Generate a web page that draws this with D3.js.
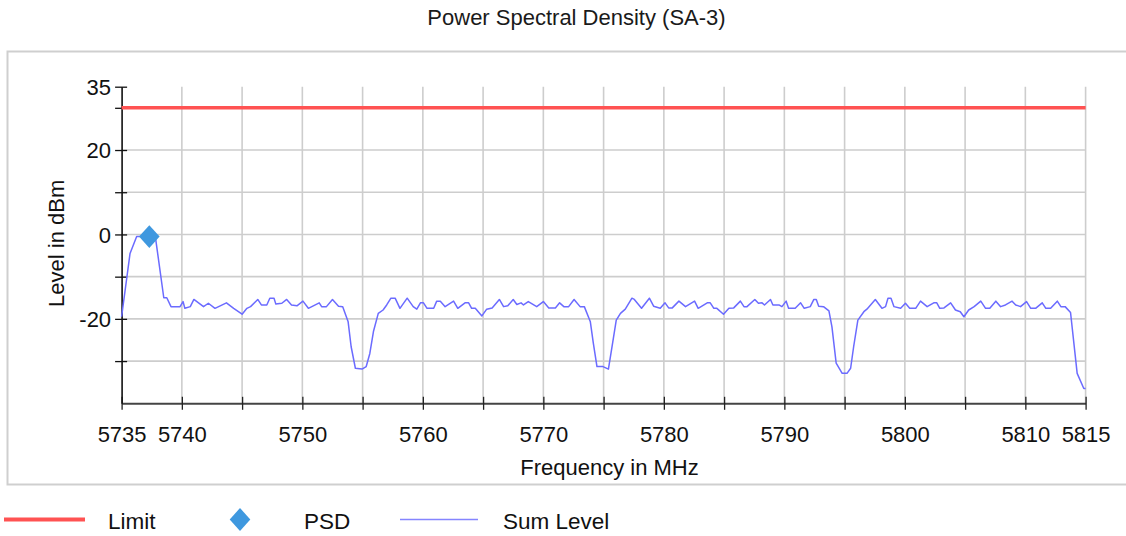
<!DOCTYPE html>
<html>
<head>
<meta charset="utf-8">
<script src="https://cdn.jsdelivr.net/npm/d3@7/dist/d3.min.js"></script>
<style>
  html, body { margin: 0; padding: 0; background: #fff; }
  svg { display: block; font-family: "Liberation Sans", Arial, sans-serif; }
</style>
</head>
<body>
<svg id="chart" width="1126" height="536"></svg>
<script>
// ---- data ----
const title = "Power Spectral Density (SA-3)";
const xTitle = "Frequency in MHz";
const yTitle = "Level in dBm";
const xTicks = [5735,5740,5745,5750,5755,5760,5765,5770,5775,5780,5785,5790,5795,5800,5805,5810,5815];
const xLabels = [5735,5740,5750,5760,5770,5780,5790,5800,5810,5815];
const yTicks = [35,30,20,10,0,-10,-20,-30];
const yLabels = [35,20,0,-20];
const yGrid = [30,20,10,0,-10,-20,-30];
const limitFreq = [5735, 5815];
const limitLevel = [30, 30];
const psdFreq = [5737.3];
const psdLevel = [-0.5];
const sumFreq = [
  5735.0,5735.7,5736.25,5737.8,5738.5,5738.75,5739.1,5739.85,5740.1,5740.25,
  5740.7,5741.0,5741.8,5742.2,5742.75,5743.7,5744.3,5745.0,5745.4,5745.7,
  5746.3,5746.6,5747.05,5747.3,5747.65,5747.8,5748.3,5748.7,5749.1,5749.55,
  5750.05,5750.5,5751.4,5751.6,5752.0,5752.5,5753.0,5753.35,5753.8,5754.05,
  5754.4,5754.95,5755.3,5755.6,5755.9,5756.3,5756.7,5757.0,5757.35,5757.7,
  5758.1,5758.7,5759.2,5759.5,5759.8,5760.05,5760.35,5760.9,5761.15,5761.45,
  5761.85,5762.55,5762.9,5763.5,5763.8,5764.05,5764.35,5764.9,5765.3,5765.75,
  5766.35,5766.7,5767.05,5767.5,5767.8,5768.15,5768.35,5768.75,5769.45,5770.0,
  5770.45,5771.0,5771.35,5771.7,5772.1,5772.55,5773.05,5773.4,5773.9,5774.15,
  5774.45,5774.95,5775.4,5775.7,5776.05,5776.4,5776.8,5777.35,5777.55,5778.15,
  5778.8,5779.15,5779.7,5780.1,5780.4,5780.7,5781.25,5781.8,5782.55,5782.85,
  5783.6,5783.85,5784.15,5784.4,5784.95,5785.4,5785.8,5786.35,5786.65,5786.9,
  5787.55,5787.85,5788.15,5788.35,5788.85,5789.05,5789.55,5789.8,5790.15,5790.35,
  5790.9,5791.35,5791.65,5792.15,5792.45,5792.65,5792.85,5793.25,5793.7,5793.95,
  5794.3,5794.8,5795.2,5795.5,5795.75,5796.1,5796.6,5796.85,5797.55,5798.1,
  5798.4,5798.6,5798.85,5799.1,5799.65,5800.05,5800.4,5800.9,5801.3,5801.85,
  5802.4,5802.65,5802.9,5803.25,5803.8,5804.2,5804.6,5804.9,5805.3,5805.75,
  5806.3,5806.7,5807.05,5807.55,5807.95,5808.35,5808.9,5809.2,5809.6,5810.1,
  5810.45,5810.85,5811.4,5811.7,5812.1,5812.65,5812.95,5813.3,5813.75,5814.3,
  5814.85,5815.0
];
const sumLevel = [
  -19.5,-4.5,-0.5,-0.5,-15.0,-15.0,-17.1,-17.1,-15.9,-17.5,
  -17.1,-15.4,-17.1,-16.3,-17.5,-16.2,-17.5,-18.9,-17.5,-17.1,
  -15.4,-16.7,-16.7,-15.1,-15.1,-16.5,-16.3,-15.4,-16.7,-16.9,
  -15.8,-17.5,-16.2,-17.1,-17.1,-15.4,-17.0,-17.1,-20.7,-26.6,
  -31.7,-31.9,-31.3,-28.2,-23.0,-18.7,-17.9,-16.7,-15.1,-15.1,
  -17.5,-15.1,-17.1,-17.7,-16.2,-16.2,-17.5,-17.5,-15.8,-15.8,
  -17.1,-15.8,-17.5,-16.2,-16.2,-17.5,-17.5,-19.3,-17.7,-17.4,
  -15.4,-17.1,-16.9,-15.4,-16.6,-16.2,-16.7,-15.9,-17.1,-15.9,
  -17.4,-17.4,-16.2,-17.1,-17.1,-15.4,-17.1,-17.1,-20.7,-25.8,
  -31.3,-31.3,-31.9,-26.6,-20.3,-18.7,-17.7,-15.1,-15.4,-17.5,
  -15.1,-17.0,-17.5,-16.2,-17.4,-17.4,-15.8,-17.1,-15.8,-17.5,
  -16.2,-16.2,-17.5,-17.5,-18.9,-17.5,-17.4,-15.8,-17.1,-17.1,
  -15.4,-16.3,-16.2,-16.7,-15.4,-16.7,-16.7,-17.1,-15.8,-17.5,
  -17.5,-16.2,-17.5,-17.1,-15.4,-15.4,-17.0,-17.1,-18.1,-21.9,
  -30.5,-32.9,-32.9,-31.7,-26.6,-20.3,-18.3,-17.7,-15.4,-17.5,
  -17.1,-15.1,-15.1,-17.1,-17.5,-16.3,-17.5,-17.5,-15.8,-17.1,
  -16.2,-16.2,-17.5,-17.4,-16.2,-17.9,-18.3,-19.5,-17.9,-17.1,
  -15.8,-17.5,-17.5,-15.8,-17.1,-16.7,-15.8,-16.7,-17.1,-15.9,
  -17.5,-17.5,-16.2,-17.5,-17.5,-15.8,-17.1,-17.1,-18.5,-32.9,
  -36.5,-36.5
];
const legendNames = ["Limit", "PSD", "Sum Level"];

// ---- colours ----
const limitColor = "#ff5252";
const psdColor = "#3f98df";
const sumColor = "#6b6bff";
const gridColor = "#cdcdcd";

// ---- drawing ----
const svg = d3.select("#chart");
const x = d3.scaleLinear().domain([5735, 5815]).range([121.6, 1085.6]);
const y = d3.scaleLinear().domain([-40, 35]).range([403.3, 86.7]);

// panel border
svg.append("rect")
  .attr("x", 7.5).attr("y", 51.5).attr("width", 1130).attr("height", 433)
  .attr("fill", "#fff").attr("stroke", "#cfcfcf").attr("stroke-width", 2);

// title
svg.append("text").attr("x", 576.5).attr("y", 25).attr("text-anchor", "middle")
  .attr("font-size", 22).attr("fill", "#1a1a1a").text(title);

// grid
const grid = svg.append("g");
grid.selectAll("line.v").data(xTicks.filter(d => d !== 5735)).join("line")
  .attr("x1", d => x(d)).attr("x2", d => x(d))
  .attr("y1", y(35)).attr("y2", y(-40))
  .attr("stroke", gridColor).attr("stroke-width", 1.6);
grid.selectAll("line.h").data(yGrid).join("line")
  .attr("x1", x(5735)).attr("x2", x(5815))
  .attr("y1", d => y(d)).attr("y2", d => y(d))
  .attr("stroke", gridColor).attr("stroke-width", 1.6);

// axes
const xAxis = d3.axisBottom(x).tickValues(xTicks)
  .tickFormat(d => xLabels.includes(d) ? String(d) : "").tickSizeOuter(0);
const gx = svg.append("g").attr("transform", `translate(0,${y(-40)})`).call(xAxis);
gx.select(".domain").attr("stroke", "#444").attr("stroke-width", 2);
gx.selectAll(".tick line").attr("y1", -6.5).attr("y2", 6.5).attr("stroke", "#222").attr("stroke-width", 1.3);
gx.selectAll(".tick text").attr("y", 38.5).attr("dy", null)
  .attr("font-size", 22).attr("fill", "#111").attr("font-family", "Liberation Sans, Arial, sans-serif");

const yAxis = d3.axisLeft(y).tickValues(yTicks)
  .tickFormat(d => yLabels.includes(d) ? String(d) : "").tickSizeOuter(0);
const gy = svg.append("g").attr("transform", `translate(${x(5735)},0)`).call(yAxis);
gy.select(".domain").attr("stroke", "#111").attr("stroke-width", 1.6);
gy.selectAll(".tick line").attr("x1", -6.5).attr("x2", 5.5).attr("stroke", "#111").attr("stroke-width", 1.3);
gy.selectAll(".tick text").attr("x", -10.5).attr("dy", "0.36em")
  .attr("font-size", 22).attr("fill", "#111").attr("font-family", "Liberation Sans, Arial, sans-serif");

// axis titles
svg.append("text").attr("x", 609.5).attr("y", 475).attr("text-anchor", "middle")
  .attr("font-size", 22).attr("fill", "#111").text(xTitle);
svg.append("text").attr("transform", "translate(64,243.3) rotate(-90)")
  .attr("text-anchor", "middle").attr("font-size", 22).attr("fill", "#111").text(yTitle);

// limit line
const limitData = limitFreq.map((f, i) => ({ f, v: limitLevel[i] }));
svg.append("path").datum(limitData)
  .attr("d", d3.line().x(d => x(d.f)).y(d => y(d.v)))
  .attr("fill", "none").attr("stroke", limitColor).attr("stroke-width", 3.5);

// sum level line
const sumData = sumFreq.map((f, i) => ({ f, v: sumLevel[i] }));
svg.append("path").datum(sumData)
  .attr("d", d3.line().x(d => x(d.f)).y(d => y(d.v)))
  .attr("fill", "none").attr("stroke", sumColor).attr("stroke-width", 1.5)
  .attr("stroke-linejoin", "round");

// PSD marker
const diamond = d3.symbol().type(d3.symbolDiamond2).size(300);
const psdData = psdFreq.map((f, i) => ({ f, v: psdLevel[i] }));
svg.selectAll("path.psd").data(psdData).join("path")
  .attr("class", "psd")
  .attr("transform", d => `translate(${x(d.f)},${y(d.v)}) scale(0.95,1.05)`)
  .attr("d", diamond).attr("fill", psdColor);

// legend
const lg = svg.append("g").attr("font-size", 22.5).attr("fill", "#111");
lg.append("line").attr("x1", 4).attr("x2", 85).attr("y1", 519.5).attr("y2", 519.5)
  .attr("stroke", limitColor).attr("stroke-width", 4);
lg.append("text").attr("x", 108).attr("y", 529.3).text(legendNames[0]);
lg.append("path").attr("transform", "translate(240,519.5) scale(0.95,1.05)")
  .attr("d", diamond).attr("fill", psdColor);
lg.append("text").attr("x", 304).attr("y", 529.3).text(legendNames[1]);
lg.append("line").attr("x1", 400).attr("x2", 478).attr("y1", 519.5).attr("y2", 519.5)
  .attr("stroke", "#8585ff").attr("stroke-width", 1.6);
lg.append("text").attr("x", 503).attr("y", 529.3).text(legendNames[2]);
</script>
</body>
</html>
